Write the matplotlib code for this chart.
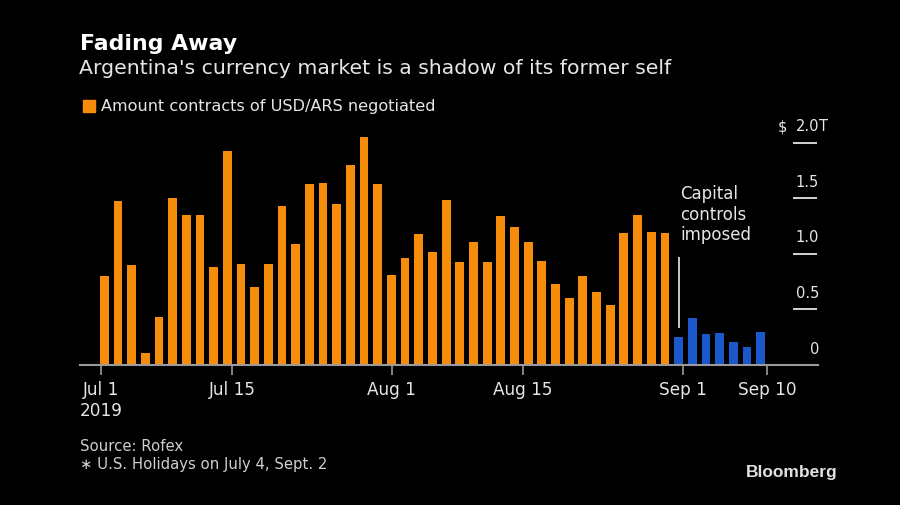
import matplotlib
matplotlib.use("Agg")
import matplotlib.pyplot as plt
import matplotlib.transforms as mtransforms
import numpy as np
import datetime as dt

# ---------------- data ----------------
before_controls = [0.80, 1.48, 0.90, 0.11, 0.43, 1.50, 1.35, 1.35, 0.88, 1.93,
                   0.91, 0.70, 0.91, 1.43, 1.09, 1.63, 1.64, 1.45, 1.80, 2.05,
                   1.63, 0.81, 0.96, 1.18, 1.02, 1.49, 0.93, 1.11, 0.93, 1.34,
                   1.24, 1.11, 0.94, 0.73, 0.60, 0.80, 0.66, 0.54, 1.19, 1.35,
                   1.20, 1.19]
after_controls = [0.25, 0.42, 0.28, 0.29, 0.21, 0.16, 0.30]

tick_dates = ["2019-07-01", "2019-07-15", "2019-08-01", "2019-08-15",
              "2019-09-01", "2019-09-10"]
tick_labels = ["Jul 1\n2019", "Jul 15", "Aug 1", "Aug 15", "Sep 1", "Sep 10"]
y_ticks = [0, 0.5, 1.0, 1.5, 2.0]
y_tick_labels = ["0", "0.5", "1.0", "1.5", "2.0"]

title = "Fading Away"
subtitle = "Argentina's currency market is a shadow of its former self"
legend_label = "Amount contracts of USD/ARS negotiated"
annotation = "Capital\ncontrols\nimposed"
source = "Source: Rofex"
footnote = "\u2217 U.S. Holidays on July 4, Sept. 2"

# ---------------- style ----------------
ORANGE = "#F58D0B"
BLUE = "#1B58CC"
GREY = "#9a9a9a"
TXT = "#e6e6e6"
W, H = 900, 505

plt.rcParams["font.family"] = ["DejaVu Sans"]

fig = plt.figure(figsize=(W / 100, H / 100), dpi=100, facecolor="black")


def fx(x):
    return x / W


def fy(y):
    return 1 - y / H


ax_left, ax_right, ax_bottom, ax_top = 80, 818, 365, 130
ax = fig.add_axes([fx(ax_left), fy(ax_bottom), fx(ax_right) - fx(ax_left),
                   fy(ax_top) - fy(ax_bottom)])
ax.set_facecolor("black")

n1, n2 = len(before_controls), len(after_controls)
x1 = np.arange(n1)
x2 = np.arange(n1, n1 + n2)
ax.bar(x1, before_controls, width=0.64, color=ORANGE, linewidth=0)
ax.bar(x2, after_controls, width=0.64, color=BLUE, linewidth=0)
ax.set_xlim(-1.78, 52.2)
ax.set_ylim(0, 2.117)

# x ticks: linear calendar mapping onto the bar index scale
start = dt.date(2019, 7, 1)
POS0, PER_DAY = -0.24, 0.686
tick_pos = [POS0 + PER_DAY * (dt.date.fromisoformat(d) - start).days for d in tick_dates]
ax.set_xticks(tick_pos)
ax.set_xticklabels(tick_labels, fontsize=12.2, color=TXT, linespacing=1.25)
ax.tick_params(axis="x", direction="out", length=7, width=1.2, color=GREY, pad=4.5)
ax.set_yticks([])

for s in ["top", "left", "right"]:
    ax.spines[s].set_visible(False)
ax.spines["bottom"].set_color(GREY)
ax.spines["bottom"].set_linewidth(1.5)

# y labels on the right with short dashes
blend = mtransforms.blended_transform_factory(ax.transAxes, ax.transData)
lab_tr = mtransforms.offset_copy(blend, fig=fig, x=0, y=16, units="dots")
xa0 = (793 - ax_left) / (ax_right - ax_left)
xa1 = (817 - ax_left) / (ax_right - ax_left)
xlab = (819 - ax_left) / (ax_right - ax_left)
for v, lab in zip(y_ticks, y_tick_labels):
    if v > 0:
        ax.hlines(v, xa0, xa1, transform=blend, color=TXT, lw=1.3)
    ax.text(xlab, v, lab, transform=lab_tr, ha="right", va="center",
            fontsize=10.5, color=TXT)
    if v == max(y_ticks):
        ax.text(xlab, v, "T", transform=lab_tr, ha="left", va="center",
                fontsize=10.5, color=TXT)
        ax.text((787 - ax_left) / (ax_right - ax_left), v, "$", transform=lab_tr,
                ha="right", va="center", fontsize=10.5, color=TXT)

# annotation
ax.vlines(n1, 0.333, 0.976, color="#d8d8d8", lw=1.3)
ax.text(n1 + 0.1, 1.62, annotation, ha="left", va="top", fontsize=12,
        color=TXT, linespacing=1.18)

# titles & legend
fig.text(fx(80), fy(50), title, fontsize=15.8, fontweight="bold", color="white",
         va="baseline", ha="left")
fig.text(fx(79), fy(74.5), subtitle, fontsize=14.7, color=TXT, va="baseline", ha="left")
fig.patches.append(plt.Rectangle((fx(83), fy(112)), fx(12), fy(100) - fy(112),
                                 transform=fig.transFigure, color=ORANGE,
                                 figure=fig))
fig.text(fx(101), fy(111.5), legend_label, fontsize=11.6, color=TXT,
         va="baseline", ha="left")

# footer
fig.text(fx(80), fy(451), source, fontsize=10.7, color="#cfcfcf", va="baseline", ha="left")
fig.text(fx(80), fy(469), footnote, fontsize=10.7, color="#cfcfcf", va="baseline", ha="left")
fig.text(fx(838), fy(477), "Bloomberg", fontsize=12.5, fontweight="bold",
         color="#e0e0e0", va="baseline", ha="right",
         family=["Liberation Sans Narrow", "Liberation Sans", "DejaVu Sans"])

fig.savefig("out.png", dpi=100, facecolor="black")
